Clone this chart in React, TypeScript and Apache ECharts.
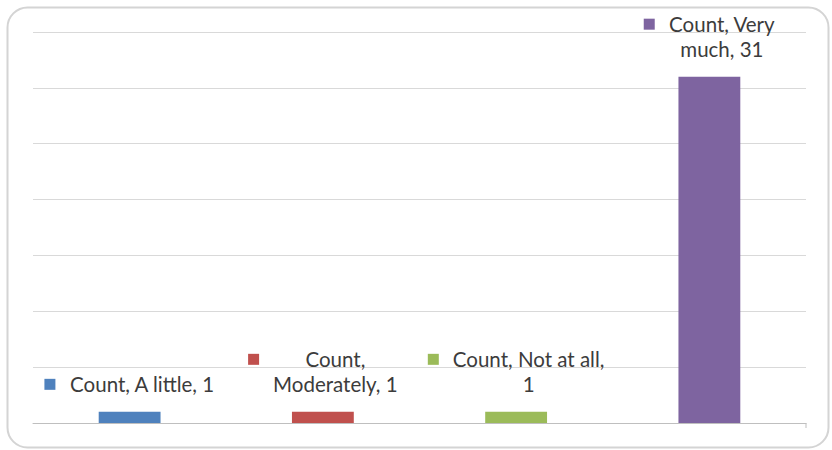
import React, { useEffect, useRef } from "react";
import * as echarts from "echarts";

const categories = ["A little", "Moderately", "Not at all", "Very much"];
const counts = [1, 1, 1, 31];
const barColors = ["#4F81BD", "#C0504D", "#9BBB59", "#7E64A0"];
// first line of each data label (rest wraps onto a second line)
const firstLines = ["Count, A little, 1", "Count,", "Count, Not at all,", "Count, Very"];
const yMax = 35;
const yInterval = 5;

export default function App() {
  const ref = useRef<HTMLDivElement>(null);
  useEffect(() => {
    if (!ref.current) return;
    const chart = echarts.init(ref.current, null, { renderer: "svg" });
    const fontSize = 20.5;
    const rich: any = {
      g: { width: 14, align: "left" },
      e: { width: 25, align: "left" },
      t: { align: "center", color: "#3c3c3c", fontSize, fontFamily: "Lato", lineHeight: 25 },
    };
    barColors.forEach((c, i) => {
      rich["m" + i] = { width: 11, height: 11, backgroundColor: c, align: "left" };
    });
    chart.setOption({
      animation: false,
      graphic: [
        {
          type: "rect",
          left: 5,
          top: 5,
          shape: { width: 821, height: 440, r: 20 },
          style: { fill: "none", stroke: "#d4d4d4", lineWidth: 2 },
          silent: true,
        },
        {
          type: "line",
          shape: { x1: 806, y1: 423, x2: 806, y2: 428 },
          style: { stroke: "#bfbfbf", lineWidth: 1 },
          silent: true,
        },
      ],
      grid: { left: 33, right: 26, top: 32, bottom: 27 },
      xAxis: {
        type: "category",
        data: categories,
        axisLine: { lineStyle: { color: "#bfbfbf", width: 1 } },
        axisTick: { alignWithLabel: true, length: 5, lineStyle: { color: "#bfbfbf" } },
        axisLabel: { show: false },
      },
      yAxis: {
        type: "value",
        min: 0,
        max: yMax,
        interval: yInterval,
        axisLabel: { show: false },
        axisLine: { show: false },
        axisTick: { show: false },
        splitLine: { lineStyle: { color: "#d9d9d9", width: 1 } },
      },
      series: [
        {
          type: "bar",
          barWidth: "32%",
          data: counts.map((v, i) => ({ value: v, itemStyle: { color: barColors[i] } })),
          label: {
            show: true,
            position: "top",
            distance: 15,
            fontFamily: "Lato",
            fontSize,
            lineHeight: 25,
            color: "#3c3c3c",
            rich,
            formatter: (p: any) => {
              const i = p.dataIndex;
              const full = `Count, ${categories[i]}, ${counts[i]}`;
              const l1 = firstLines[i];
              const rest = full.slice(l1.length).trim();
              let s = `{m${i}| }{g| }{t|${l1}}`;
              if (rest) s += `\n{e| }{t|${rest}}`;
              return s;
            },
          },
        },
      ],
    });
    return () => chart.dispose();
  }, []);
  return (
    <div
      ref={ref}
      style={{ position: "fixed", left: 0, top: 0, width: 832, height: 450, background: "#fff" }}
    />
  );
}
